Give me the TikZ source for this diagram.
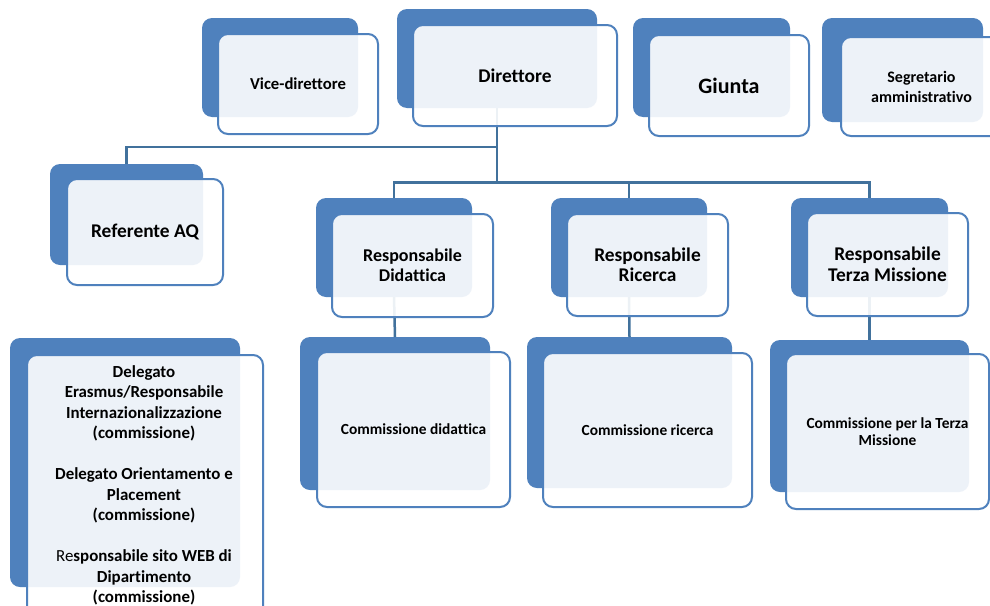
\documentclass[tikz,border=0pt]{standalone}
\usepackage{fontspec}
\setmainfont{Carlito}[Ligatures={NoCommon}]
\definecolor{boxblue}{HTML}{4F81BD}
\definecolor{connblue}{HTML}{41719C}
\tikzset{
  backbox/.style={draw=none, fill=boxblue, rounded corners=10pt, inner sep=0pt, outer sep=0pt},
  frontbox/.style={draw=boxblue, line width=2pt, fill=white, fill opacity=0.9, text opacity=1,
    rounded corners=10pt, inner sep=0pt, outer sep=0pt, align=center, font=\bfseries},
  conn/.style={draw=connblue, line width=2.5pt},
  fs/.style 2 args={font=\bfseries\fontsize{#1}{#2}\selectfont}
}
\begin{document}
\begin{tikzpicture}[x=1pt,y=-1pt]
\clip (0,0) rectangle (990,605);
\fill[white] (0,0) rectangle (990,605);
% back boxes
\node[backbox, minimum width=156pt, minimum height=99pt] (viceB) at (280,67.5) {};
\node[backbox, minimum width=200pt, minimum height=99pt] (dirB) at (497,58.5) {};
\node[backbox, minimum width=157pt, minimum height=99pt] (giuB) at (711.5,67.5) {};
\node[backbox, minimum width=161pt, minimum height=104pt] (segB) at (902.5,70) {};
\node[backbox, minimum width=153pt, minimum height=101pt] (refB) at (126.5,214.5) {};
\node[backbox, minimum width=156pt, minimum height=99pt] (didB) at (394,247.5) {};
\node[backbox, minimum width=156pt, minimum height=99pt] (ricB) at (629,247.5) {};
\node[backbox, minimum width=157pt, minimum height=99pt] (terB) at (869.5,247.5) {};
\node[backbox, minimum width=190pt, minimum height=153pt] (cdidB) at (395,413.5) {};
\node[backbox, minimum width=205pt, minimum height=151pt] (cricB) at (629.5,412.5) {};
\node[backbox, minimum width=199pt, minimum height=152pt] (cterB) at (869.5,416) {};
\node[backbox, minimum width=230pt, minimum height=249pt] (leftB) at (125,462.5) {};
% connectors
\coordinate (j1) at (497,147);
\coordinate (j2) at (497,182.5);
\draw[conn] (dirB.south) -- (j1) -| (refB.north);
\draw[conn] (j1) -- (j2);
\draw[conn] (didB.north) |- (j2) -| (terB.north);
\draw[conn] (ricB.north) -- (ricB.north |- j2);
\draw[conn] (didB.south) -- (cdidB.north);
\draw[conn] (ricB.south) -- (cricB.north);
\draw[conn] (terB.south) -- (cterB.north);
% front boxes
\node[frontbox, fs={16.7}{20}, minimum width=160pt, minimum height=100pt] (viceF) at (298,84) {Vice-direttore};
\node[frontbox, fs={19.4}{22}, minimum width=204pt, minimum height=101pt] (dirF) at (515,75.5) {Direttore};
\node[frontbox, fs={22}{24}, minimum width=160pt, minimum height=101pt] (giuF) at (729,85.5) {Giunta};
\node[frontbox, fs={16}{20}, minimum width=161pt, minimum height=99pt] (segF) at (921.5,86.5) {Segretario\\amministrativo};
\node[frontbox, fs={19.4}{22}, minimum width=156pt, minimum height=106pt] (refF) at (145,232) {Referente AQ};
\node[frontbox, fs={18}{20}, minimum width=161pt, minimum height=103pt] (didF) at (412.5,265.5) {Responsabile\\Didattica};
\node[frontbox, fs={19.4}{20.5}, minimum width=161pt, minimum height=102pt] (ricF) at (647.5,265) {Responsabile\\Ricerca};
\node[frontbox, fs={19.4}{20.5}, minimum width=161pt, minimum height=103pt] (terF) at (887.5,264.5) {Responsabile\\Terza Missione};
\node[frontbox, fs={15.4}{18}, minimum width=193pt, minimum height=155pt] (cdidF) at (413.5,429.5) {Commissione didattica};
\node[frontbox, fs={15.4}{18}, minimum width=209pt, minimum height=154pt] (cricF) at (647.5,430) {Commissione ricerca};
\node[frontbox, fs={15.4}{17.5}, minimum width=203pt, minimum height=155pt] (cterF) at (887.5,431.5) {Commissione per la Terza\\Missione};
\node[frontbox, minimum width=236pt, minimum height=270pt] (leftF) at (145,490) {};
\node[fs={16.9}{20.5}, align=center, inner sep=0pt, anchor=north] (leftT) at (144,365)
  {Delegato\\Erasmus/Responsabile\\Internazionalizzazione\\(commissione)\\[20.5pt]Delegato Orientamento e\\Placement\\(commissione)\\[20.5pt]{\mdseries Re}sponsabile sito WEB di\\Dipartimento\\(commissione)};
\end{tikzpicture}
\end{document}
